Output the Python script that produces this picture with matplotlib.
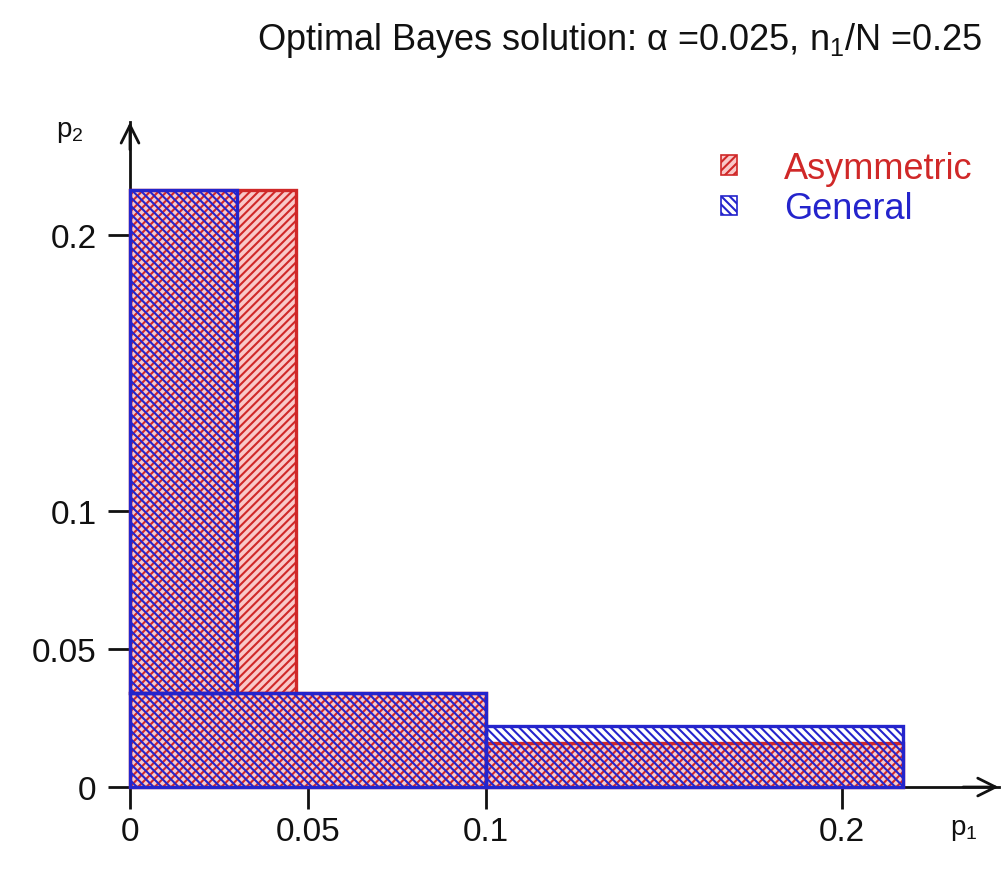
import matplotlib
matplotlib.use('Agg')
import matplotlib.pyplot as plt
from matplotlib.patches import Patch

# ── DATA: rejection-region step boundaries (p1 cut points, p2 heights) ──
asym_p1 = [0.0466, 0.100, 0.217]
asym_p2 = [0.2166, 0.034, 0.016]
gen_p1 = [0.030, 0.100, 0.217]
gen_p2 = [0.2166, 0.034, 0.022]

xticks = [0, 0.05, 0.1, 0.2]
xtick_labels = ["0", "0.05", "0.1", "0.2"]
yticks = [0, 0.05, 0.1, 0.2]
ytick_labels = ["0", "0.05", "0.1", "0.2"]

labels = ["Asymmetric", "General"]
title = r"Optimal Bayes solution: $\mathregular{\alpha}$ =0.025, $\mathregular{n_1/N}$ =0.25"

RED = '#d02828'
BLUE = '#2424cc'
PINK = '#f9c8c8'

plt.rcParams['font.family'] = ['Liberation Sans', 'DejaVu Sans']
plt.rcParams['mathtext.fontset'] = 'custom'
plt.rcParams['mathtext.rm'] = 'Liberation Sans'
plt.rcParams['mathtext.it'] = 'Liberation Sans:italic'
plt.rcParams['hatch.linewidth'] = 1.5

fig = plt.figure(figsize=(10.07, 8.7), dpi=100)
ax = fig.add_axes([0.1185, 0.0847, 0.8732, 0.7737])
xmax, ymax = 0.244, 0.241
ax.set_xlim(-0.003, xmax)
ax.set_ylim(-0.003, ymax)


def draw_region(p1, p2, face, edge, hatch, z):
    # vertical column, bottom block, right strip
    lefts = [0, 0, p1[1]]
    widths = [p1[0], p1[1], p1[2] - p1[1]]
    bottoms = [p2[1], 0, 0]
    heights = [p2[0] - p2[1], p2[1], p2[2]]
    ax.bar(lefts, heights, width=widths, bottom=bottoms, align='edge',
           facecolor=face, edgecolor=edge, hatch=hatch, linewidth=2.4,
           zorder=z)


draw_region(asym_p1, asym_p2, PINK, RED, '////', 2)
draw_region(gen_p1, gen_p2, 'none', BLUE, '\\\\\\\\', 3)

# ── axes with arrows ──
for s in ['top', 'right']:
    ax.spines[s].set_visible(False)
ax.spines['left'].set_position(('data', 0))
ax.spines['bottom'].set_position(('data', 0))
ax.spines['left'].set_bounds(0, ymax)
ax.spines['bottom'].set_bounds(0, xmax)
for s in ['left', 'bottom']:
    ax.spines[s].set_linewidth(2.0)
    ax.spines[s].set_color('#111111')
    ax.spines[s].set_zorder(1)
ax.annotate('', xy=(xmax, 0), xytext=(xmax - 0.01, 0),
            arrowprops=dict(arrowstyle='->', lw=2.0, color='#111111',
                            mutation_scale=32, shrinkA=0, shrinkB=0),
            annotation_clip=False)
ax.annotate('', xy=(0, ymax), xytext=(0, ymax - 0.01),
            arrowprops=dict(arrowstyle='->', lw=2.0, color='#111111',
                            mutation_scale=32, shrinkA=0, shrinkB=0),
            annotation_clip=False)

ax.set_xticks(xticks)
ax.set_xticklabels(xtick_labels)
ax.set_yticks(yticks)
ax.set_yticklabels(ytick_labels)
ax.tick_params(axis='both', length=16, width=2.0, color='#111111',
               labelsize=24, labelcolor='#111111')
ax.tick_params(axis='x', pad=5)
ax.tick_params(axis='y', pad=8)

fig.text(964 / 1007, 1 - 830 / 870, r"$\mathregular{p_1}$", fontsize=20,
         ha='center', va='center', color='#111111')
fig.text(70 / 1007, 1 - 132 / 870, r"$\mathregular{p_2}$", fontsize=20,
         ha='center', va='center', color='#111111')

fig.text(620 / 1007, 1 - 40 / 870, title, fontsize=26, ha='center',
         va='center', color='#111111')

handles = [Patch(facecolor=PINK, edgecolor=RED, hatch='////', linewidth=1.2),
           Patch(facecolor='none', edgecolor=BLUE, hatch='\\\\\\\\', linewidth=1.2)]
ax.legend(handles, labels, loc='upper left', frameon=False,
          bbox_to_anchor=(721 / 1007, 1 - 152 / 870), bbox_transform=fig.transFigure,
          fontsize=26, labelcolor=[RED, BLUE], handlelength=0.45,
          handleheight=0.45, handletextpad=1.3, labelspacing=0.15,
          borderpad=0, borderaxespad=0)

fig.savefig('out.png', dpi=100)
